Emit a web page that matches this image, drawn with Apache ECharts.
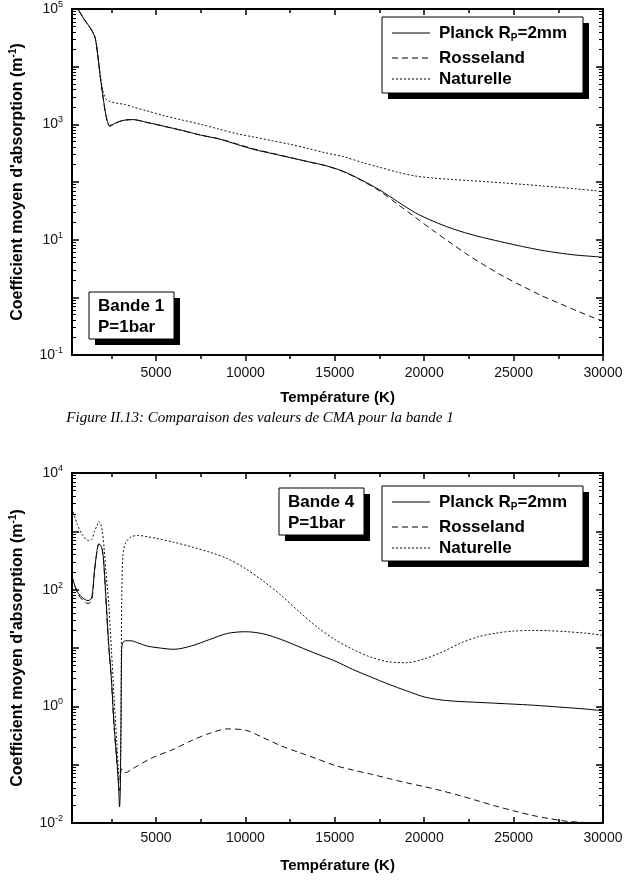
<!DOCTYPE html>
<html>
<head>
<meta charset="utf-8">
<script src="https://cdn.jsdelivr.net/npm/echarts@6/dist/echarts.min.js"></script>
<style>
html,body{margin:0;padding:0;background:#fff;}
#chart{width:627px;height:883px;}
</style>
</head>
<body>
<div id="chart"></div>
<script>
// ---------------- DATA ----------------
const seriesNames = ['Planck R_P=2mm', 'Rosseland', 'Naturelle'];

// Bande 1
const band1Temp = [300, 600, 1000, 1400, 1600, 1750, 1900, 2050, 2200, 2400, 2600, 2900, 3300, 3700, 4500, 5500, 6500, 7500, 8500, 9500, 10500, 11500, 12500, 13500, 14500, 15500, 16500, 17500, 18500, 19500, 20500, 21500, 22500, 23500, 24500, 25500, 26500, 27500, 28500, 29500, 30000];
const band1Planck = [130000, 102000, 65000, 43000, 31000, 15000, 6000, 2800, 1450, 960, 1000, 1110, 1190, 1210, 1080, 920, 780, 650, 560, 450, 365, 311, 265, 225, 192, 152, 108, 73, 46, 29.3, 20.9, 15.8, 12.6, 10.5, 8.9, 7.6, 6.6, 5.9, 5.4, 5.1, 4.95];
const band1Rosseland = [130000, 102000, 65000, 43000, 31000, 15000, 6000, 2750, 1400, 920, 980, 1100, 1185, 1205, 1075, 915, 775, 650, 565, 460, 372, 315, 266, 225, 191, 150, 106, 70, 41.5, 24.4, 14.4, 8.7, 5.3, 3.4, 2.25, 1.56, 1.09, 0.8, 0.59, 0.44, 0.39];
const band1Naturelle = [130000, 102000, 65000, 43000, 31000, 15000, 6500, 3600, 2750, 2500, 2400, 2300, 2200, 2000, 1710, 1400, 1180, 1000, 830, 690, 600, 520, 450, 381, 320, 275, 219, 180, 148, 127, 117, 111, 106, 101, 96, 91, 86, 81, 76, 71, 68];

// Bande 4
const band4Temp = [300, 600, 900, 1200, 1400, 1550, 1700, 1800, 1900, 2000, 2100, 2200, 2350, 2500, 2650, 2800, 2900, 2960, 3000, 3040, 3080, 3150, 3300, 3600, 4000, 4500, 5000, 6000, 7000, 8000, 9000, 10000, 11000, 12000, 13000, 14000, 15000, 16000, 17000, 18000, 19000, 20000, 21000, 22000, 23000, 24000, 25000, 26000, 27000, 28000, 29000, 30000];
const band4Planck = [167, 92, 72, 65, 72, 200, 470, 610, 580, 480, 230, 70, 12, 3.1, 0.5, 0.13, 0.045, 0.019, 0.035, 0.5, 9.5, 12.5, 13.3, 13.3, 12.2, 10.8, 10.2, 9.5, 10.9, 14, 17.8, 19, 17.5, 14, 10.5, 7.9, 6.0, 4.3, 3.2, 2.4, 1.85, 1.45, 1.28, 1.21, 1.17, 1.13, 1.09, 1.05, 1.0, 0.95, 0.9, 0.84];
const band4Rosseland = [170, 88, 66, 58, 65, 190, 460, 600, 570, 470, 220, 65, 11, 2.8, 0.45, 0.12, 0.05, 0.036, 0.05, 0.08, 0.085, 0.075, 0.073, 0.082, 0.097, 0.118, 0.14, 0.185, 0.26, 0.345, 0.41, 0.39, 0.29, 0.21, 0.162, 0.126, 0.097, 0.081, 0.069, 0.058, 0.049, 0.042, 0.0355, 0.0295, 0.024, 0.0195, 0.0162, 0.0136, 0.0119, 0.0107, 0.0102, 0.0098];
const band4Naturelle = [2500, 1300, 850, 700, 720, 1000, 1250, 1480, 1350, 1000, 500, 200, 60, 10, 1.5, 0.25, 0.08, 0.055, 0.07, 0.5, 60, 400, 640, 800, 850, 810, 760, 650, 540, 440, 340, 230, 140, 80, 42, 23, 14, 9.5, 7, 5.8, 5.6, 6.5, 8.5, 12, 15.5, 18, 19.5, 20, 19.8, 19, 18, 16.5];

// Axes ticks / labels
const xMin = 300, xMax = 30000;
const xMajorTicks = [5000, 10000, 15000, 20000, 25000, 30000];
const xMinorTicks = [2500, 7500, 12500, 17500, 22500, 27500];
const xTickLabels = [5000, 10000, 15000, 20000, 25000, 30000];
const band1Decades = [-1, 0, 1, 2, 3, 4, 5];
const band1LabelExps = [-1, 1, 3, 5];
const band4Decades = [-2, -1, 0, 1, 2, 3, 4];
const band4LabelExps = [-2, 0, 2, 4];

// ---------------- BUILD ----------------
const FONT = '"Liberation Sans", Arial, sans-serif';
const zip = (xs, ys) => xs.map((x, i) => [x, ys[i]]);
const minorOf = (dec) => {
  const out = [];
  for (let i = 0; i < dec.length - 1; i++) for (let k = 2; k <= 9; k++) out.push(dec[i] + Math.log10(k));
  return out;
};

const grids = [
  {left: 72, top: 5, width: 531, height: 350},
  {left: 72, top: 473, width: 531, height: 350}
];

const panels = [
  {dec: band1Decades, labels: band1LabelExps, xInside: false, xMargin: 11},
  {dec: band4Decades, labels: band4LabelExps, xInside: true, xMargin: 8}
];

const xAxes = [], yAxes = [];
const blackLine = {color: '#000', width: 2};
const noLine = {show: false, onZero: false};
panels.forEach((p, g) => {
  // x axes: 0 data/bottom major, 1 bottom minor, 2 top major, 3 top minor
  xAxes.push({
    type: 'value', gridIndex: g, min: xMin, max: xMax, position: 'bottom',
    axisLine: {show: true, onZero: false, lineStyle: blackLine},
    axisTick: {show: true, inside: p.xInside, length: 6, customValues: xMajorTicks, lineStyle: {color: '#000', width: 1.5}},
    axisLabel: {show: true, customValues: xTickLabels, formatter: v => String(v), fontSize: 14, color: '#111', fontFamily: FONT, margin: p.xMargin},
    splitLine: {show: false},
    name: 'Température (K)', nameLocation: 'middle', nameGap: 35,
    nameTextStyle: {fontSize: 15, fontWeight: 'bold', color: '#000', fontFamily: FONT}
  });
  xAxes.push({
    type: 'value', gridIndex: g, min: xMin, max: xMax, position: 'bottom',
    axisLine: noLine, axisLabel: {show: false}, splitLine: {show: false},
    axisTick: {show: true, inside: p.xInside, length: 4, customValues: xMinorTicks, lineStyle: {color: '#000', width: 1.5}}
  });
  xAxes.push({
    type: 'value', gridIndex: g, min: xMin, max: xMax, position: 'top',
    axisLine: {show: true, onZero: false, lineStyle: blackLine}, axisLabel: {show: false}, splitLine: {show: false},
    axisTick: {show: true, inside: true, length: 6, customValues: xMajorTicks, lineStyle: {color: '#000', width: 1.5}}
  });
  xAxes.push({
    type: 'value', gridIndex: g, min: xMin, max: xMax, position: 'top',
    axisLine: noLine, axisLabel: {show: false}, splitLine: {show: false},
    axisTick: {show: true, inside: true, length: 4, customValues: xMinorTicks, lineStyle: {color: '#000', width: 1.5}}
  });

  const e0 = p.dec[0], e1 = p.dec[p.dec.length - 1];
  // y axes: 0 data log axis, 1 left major (labels), 2 left minor, 3 right major, 4 right minor
  yAxes.push({
    type: 'log', logBase: 10, gridIndex: g, min: Math.pow(10, e0), max: Math.pow(10, e1), position: 'left',
    axisLine: {show: true, onZero: false, lineStyle: blackLine}, axisTick: {show: false}, axisLabel: {show: false},
    splitLine: {show: false}, minorTick: {show: false},
    name: "{t|Coefficient moyen d'absorption (m}{s|-1}{t|)}", nameLocation: 'middle', nameGap: 44,
    nameTextStyle: {
      rich: {
        t: {fontSize: 16, fontWeight: 'bold', color: '#000', fontFamily: FONT, lineHeight: 20},
        s: {fontSize: 10, fontWeight: 'bold', color: '#000', fontFamily: FONT, lineHeight: 12, verticalAlign: 'top'}
      }
    }
  });
  yAxes.push({
    type: 'value', gridIndex: g, min: e0, max: e1, position: 'left',
    axisLine: noLine, splitLine: {show: false},
    axisTick: {show: true, inside: true, length: 7, customValues: p.dec, lineStyle: {color: '#000', width: 1.5}},
    axisLabel: {
      show: true, customValues: p.labels, margin: 9,
      formatter: v => '{b|10}{s|' + v + '}',
      rich: {
        b: {fontSize: 14, color: '#111', fontFamily: FONT, lineHeight: 18},
        s: {fontSize: 9, color: '#111', fontFamily: FONT, lineHeight: 9, verticalAlign: 'top'}
      }
    }
  });
  yAxes.push({
    type: 'value', gridIndex: g, min: e0, max: e1, position: 'left',
    axisLine: noLine, axisLabel: {show: false}, splitLine: {show: false},
    axisTick: {show: true, inside: true, length: 4, customValues: minorOf(p.dec), lineStyle: {color: '#000', width: 1}}
  });
  yAxes.push({
    type: 'value', gridIndex: g, min: e0, max: e1, position: 'right',
    axisLine: {show: true, onZero: false, lineStyle: blackLine}, axisLabel: {show: false}, splitLine: {show: false},
    axisTick: {show: true, inside: true, length: 7, customValues: p.dec, lineStyle: {color: '#000', width: 1.5}}
  });
  yAxes.push({
    type: 'value', gridIndex: g, min: e0, max: e1, position: 'right',
    axisLine: noLine, axisLabel: {show: false}, splitLine: {show: false},
    axisTick: {show: true, inside: true, length: 4, customValues: minorOf(p.dec), lineStyle: {color: '#000', width: 1}}
  });
});

const styles = [
  {color: '#000', width: 1, type: 'solid'},
  {color: '#111', width: 1, type: [6, 4]},
  {color: '#111', width: 1, type: [2, 2]}
];

const bandData = [
  {temp: band1Temp, vals: [band1Planck, band1Rosseland, band1Naturelle]},
  {temp: band4Temp, vals: [band4Planck, band4Rosseland, band4Naturelle]}
];
const series = [];
bandData.forEach((b, g) => {
  b.vals.forEach((v, i) => {
    series.push({
      type: 'line', name: seriesNames[i], xAxisIndex: g * 4, yAxisIndex: g * 5,
      data: zip(b.temp, v), showSymbol: false, symbol: 'none', smooth: 0.3, clip: true,
      lineStyle: styles[i], z: 3
    });
  });
});

// legend & annotation boxes
const boldText = 'bold 17px ' + FONT;
function shadowBox(x, y, w, h) {
  return [
    {type: 'rect', shape: {x: x + 6, y: y + 6, width: w, height: h}, style: {fill: '#000'}, z: 10},
    {type: 'rect', shape: {x: x, y: y, width: w, height: h}, style: {fill: '#fff', stroke: '#000', lineWidth: 1}, z: 11}
  ];
}
function legend(x, y, w, h, rows) {
  const els = shadowBox(x, y, w, h);
  const dashes = [null, [6, 4], [2, 2]];
  rows.forEach((ry, i) => {
    els.push({type: 'line', shape: {x1: x + 10, y1: ry, x2: x + 48, y2: ry},
      style: {stroke: '#000', lineWidth: 1, lineDash: dashes[i]}, z: 12});
    const txt = i === 0 ? '{t|Planck R}{u|P}{t|=2mm}' : '{t|' + seriesNames[i] + '}';
    els.push({type: 'text', x: x + 57, y: ry, z: 12,
      style: {text: txt, verticalAlign: 'middle', align: 'left',
        rich: {
          t: {font: boldText, fill: '#000', lineHeight: 20},
          u: {font: 'bold 10px ' + FONT, fill: '#000', lineHeight: 9, verticalAlign: 'bottom'}
        }}});
  });
  return els;
}
function noteBox(x, y, w, h, lines, rows) {
  const els = shadowBox(x, y, w, h);
  lines.forEach((t, i) => {
    els.push({type: 'text', x: x + 9, y: rows[i], z: 12,
      style: {text: t, font: boldText, fill: '#000', verticalAlign: 'middle', align: 'left'}});
  });
  return els;
}

const graphic = [].concat(
  legend(382, 17, 201, 76, [33, 58, 79]),
  noteBox(89, 292, 85, 47, ['Bande 1', 'P=1bar'], [306, 327]),
  legend(382, 486, 201, 75, [502, 527, 548]),
  noteBox(279, 488, 85, 47, ['Bande 4', 'P=1bar'], [502, 523]),
  [{type: 'text', x: 260, y: 418, z: 12,
    style: {text: 'Figure II.13: Comparaison des valeurs de CMA pour la bande 1',
      font: 'italic 15px "Liberation Serif", "Times New Roman", serif', fill: '#000',
      align: 'center', verticalAlign: 'middle'}}]
);

const chart = echarts.init(document.getElementById('chart'), null, {renderer: 'canvas'});
chart.setOption({
  animation: false,
  backgroundColor: '#fff',
  grid: grids,
  xAxis: xAxes,
  yAxis: yAxes,
  series: series,
  graphic: graphic
});
</script>
</body>
</html>
